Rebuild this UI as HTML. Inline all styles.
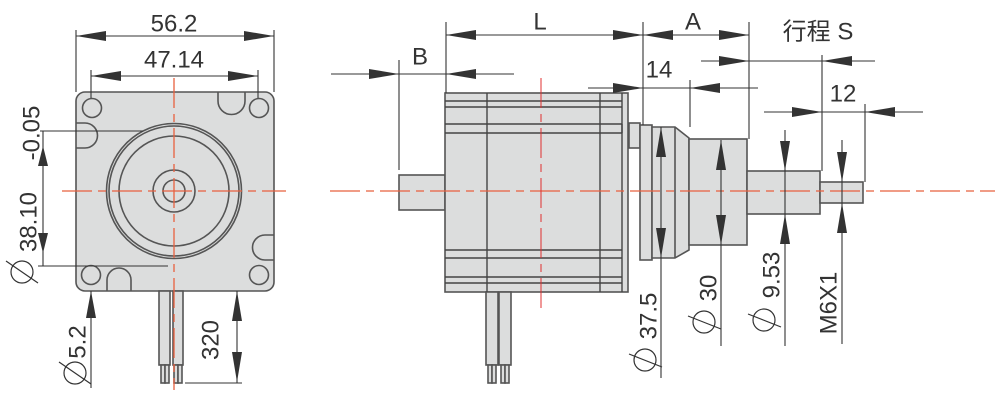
<!DOCTYPE html>
<html><head><meta charset="utf-8"><style>
html,body{margin:0;padding:0;background:#fff;}
svg{display:block;}
text{font-family:"Liberation Sans","Noto Sans CJK SC",sans-serif;font-size:24px;fill:#333;}
</style></head><body>
<svg width="1000" height="419" viewBox="0 0 1000 419" xmlns="http://www.w3.org/2000/svg">
<g fill="#dcdddd" stroke="#555" stroke-width="1.6">
  <!-- LEFT VIEW -->
  <rect x="76" y="92" width="198" height="199" rx="9"/>
  <path d="M218,92 V101 A13.5,13.5 0 0 0 245,101 V92" fill="none"/>
  <path d="M76,123 H85 A12.5,12.5 0 0 1 85,148 H76" fill="none"/>
  <path d="M274,235 H265 A12.5,12.5 0 0 0 265,260 H274" fill="none"/>
  <path d="M107,291 V280 A12,12 0 0 1 131,280 V291" fill="none"/>
  <circle cx="92" cy="108" r="9.5"/><circle cx="259" cy="108" r="9.5"/>
  <circle cx="91" cy="275" r="9.5"/><circle cx="259" cy="275" r="9.5"/>
  <circle cx="174" cy="191" r="67.5"/>
  <circle cx="174" cy="191" r="65"/>
  <circle cx="174" cy="191" r="55"/>
  <circle cx="174" cy="191" r="21"/>
  <circle cx="174" cy="191" r="11"/>
  <rect x="159" y="291" width="11" height="74"/><rect x="173" y="291" width="10" height="74"/>
  <rect x="161" y="365" width="4" height="18"/><rect x="165" y="365" width="4" height="18"/>
  <rect x="174" y="365" width="4" height="18"/><rect x="178" y="365" width="4" height="18"/>

  <!-- RIGHT VIEW -->
  <rect x="399" y="175" width="46" height="35"/>
  <rect x="445" y="93" width="183" height="199"/>
  <rect x="629" y="123" width="11" height="25"/>
  <rect x="640" y="125" width="12" height="135"/>
  <polygon points="652,127 675,127 689,138 689,250 675,258 652,258"/>
  <line x1="675" y1="127" x2="675" y2="258"/>
  <rect x="689" y="139" width="58" height="106"/>
  <rect x="747" y="171" width="73" height="43"/>
  <rect x="820" y="182" width="43" height="21"/>
  <rect x="486" y="292" width="12" height="73"/><rect x="499" y="292" width="12" height="73"/>
  <rect x="488" y="365" width="4" height="18"/><rect x="492" y="365" width="4" height="18"/>
  <rect x="501" y="365" width="4" height="18"/><rect x="505" y="365" width="4" height="18"/>
</g>
<g stroke="#444" stroke-width="1.4" fill="none">
  <line x1="487" y1="93" x2="487" y2="292"/>
  <line x1="600" y1="93" x2="600" y2="292"/>
  <line x1="622" y1="93" x2="622" y2="292"/>
  <line x1="445" y1="101" x2="622" y2="101"/><line x1="445" y1="107" x2="622" y2="107"/>
  <line x1="445" y1="124" x2="622" y2="124"/><line x1="445" y1="133" x2="622" y2="133"/>
  <line x1="445" y1="250" x2="622" y2="250"/><line x1="445" y1="258" x2="622" y2="258"/>
  <line x1="445" y1="277" x2="622" y2="277"/><line x1="445" y1="283" x2="622" y2="283"/>
  <line x1="622" y1="124" x2="622" y2="133"/>
</g>
<!-- centerlines -->
<g stroke="#e8603f" stroke-width="1.3" fill="none" stroke-dasharray="30,6,8,6">
  <line x1="62" y1="191" x2="286" y2="191"/>
  <line x1="174" y1="78" x2="174" y2="390"/>
  <line x1="330" y1="191" x2="995" y2="191"/>
</g>
<line x1="541" y1="78" x2="541" y2="310" stroke="#e03030" stroke-width="1" stroke-dasharray="30,6,8,6"/>

<!-- dimension lines -->
<g stroke="#333" stroke-width="1.1" fill="none">
  <line x1="76" y1="30" x2="76" y2="92"/><line x1="274" y1="30" x2="274" y2="92"/>
  <line x1="76" y1="36" x2="274" y2="36"/>
  <line x1="91" y1="70" x2="91" y2="98"/><line x1="258" y1="70" x2="258" y2="98"/>
  <line x1="91" y1="76" x2="258" y2="76"/>
  <line x1="40" y1="131" x2="143" y2="131"/><line x1="38" y1="266" x2="168" y2="266"/>
  <line x1="43" y1="131" x2="43" y2="266"/>
  <line x1="91" y1="291" x2="91" y2="388"/>
  <line x1="237" y1="291" x2="237" y2="383"/><line x1="185" y1="383" x2="242" y2="383"/>

  <line x1="446" y1="22" x2="446" y2="93"/>
  <line x1="643" y1="22" x2="643" y2="125"/>
  <line x1="749" y1="22" x2="749" y2="139"/>
  <line x1="446" y1="35" x2="749" y2="35"/>
  <line x1="331" y1="74" x2="514" y2="74"/>
  <line x1="399" y1="60" x2="399" y2="170"/>
  <line x1="588" y1="88" x2="758" y2="88"/>
  <line x1="690" y1="80" x2="690" y2="127"/>
  <line x1="701" y1="61" x2="875" y2="61"/>
  <line x1="822" y1="55" x2="822" y2="171"/>
  <line x1="764" y1="112" x2="923" y2="112"/>
  <line x1="865" y1="104" x2="865" y2="182"/>
  <line x1="661" y1="127" x2="661" y2="378"/>
  <line x1="721" y1="140" x2="721" y2="346"/>
  <line x1="785" y1="130" x2="785" y2="346"/>
  <line x1="842" y1="140" x2="842" y2="344"/>
</g>
<g fill="#333">
  <polygon points="76,36 106,31 106,41"/><polygon points="274,36 244,31 244,41"/>
  <polygon points="91,76 121,71 121,81"/><polygon points="258,76 228,71 228,81"/>
  <polygon points="43,146 38,166 48,166"/><polygon points="43,253 38,233 48,233"/>
  <polygon points="91,291 86,318 96,318"/>
  <polygon points="237,291 232,321 242,321"/><polygon points="237,382 232,352 242,352"/>
  <polygon points="446,35 476,30 476,40"/><polygon points="643,35 613,30 613,40"/>
  <polygon points="643,35 673,30 673,40"/><polygon points="749,35 719,30 719,40"/>
  <polygon points="399,74 369,69 369,79"/><polygon points="446,74 476,69 476,79"/>
  <polygon points="643,88 613,83 613,93"/><polygon points="690,88 720,83 720,93"/>
  <polygon points="749,61 719,56 719,66"/><polygon points="822,61 852,56 852,66"/>
  <polygon points="822,112 792,107 792,117"/><polygon points="865,112 895,107 895,117"/>
  <polygon points="661,127 656,157 666,157"/><polygon points="661,258 656,228 666,228"/>
  <polygon points="721,140 716,170 726,170"/><polygon points="721,245 716,215 726,215"/>
  <polygon points="785,171 780,141 790,141"/><polygon points="785,214 780,244 790,244"/>
  <polygon points="842,182 837,152 847,152"/><polygon points="842,203 837,233 847,233"/>
</g>
<!-- diameter symbols -->
<g stroke="#333" stroke-width="1.2" fill="none">
  <circle cx="22" cy="272" r="11"/><line x1="6" y1="261" x2="38" y2="283"/>
  <circle cx="75" cy="373" r="11"/><line x1="59" y1="362" x2="91" y2="384"/>
  <circle cx="645" cy="360" r="11"/><line x1="629" y1="354" x2="662" y2="367"/>
  <circle cx="704" cy="322" r="11"/><line x1="688" y1="316" x2="721" y2="329"/>
  <circle cx="764" cy="320" r="11"/><line x1="748" y1="314" x2="781" y2="327"/>
</g>
<!-- texts -->
<g text-anchor="middle" dominant-baseline="central">
  <text x="174" y="24">56.2</text>
  <text x="174" y="60">47.14</text>
  <text transform="translate(32,133) rotate(-90)">-0.05</text>
  <text transform="translate(29,222) rotate(-90)">38.10</text>
  <text transform="translate(78,342) rotate(-90)">5.2</text>
  <text transform="translate(211,340) rotate(-90)">320</text>
  <text x="540" y="22">L</text>
  <text x="693" y="22">A</text>
  <text x="420" y="57">B</text>
  <text x="659" y="70">14</text>
  <text x="818" y="32">行程 S</text>
  <text x="843" y="94">12</text>
  <text transform="translate(649,316) rotate(-90)">37.5</text>
  <text transform="translate(709,288) rotate(-90)">30</text>
  <text transform="translate(772,275) rotate(-90)">9.53</text>
  <text transform="translate(829,303) rotate(-90)">M6X1</text>
</g>
</svg>
</body></html>
